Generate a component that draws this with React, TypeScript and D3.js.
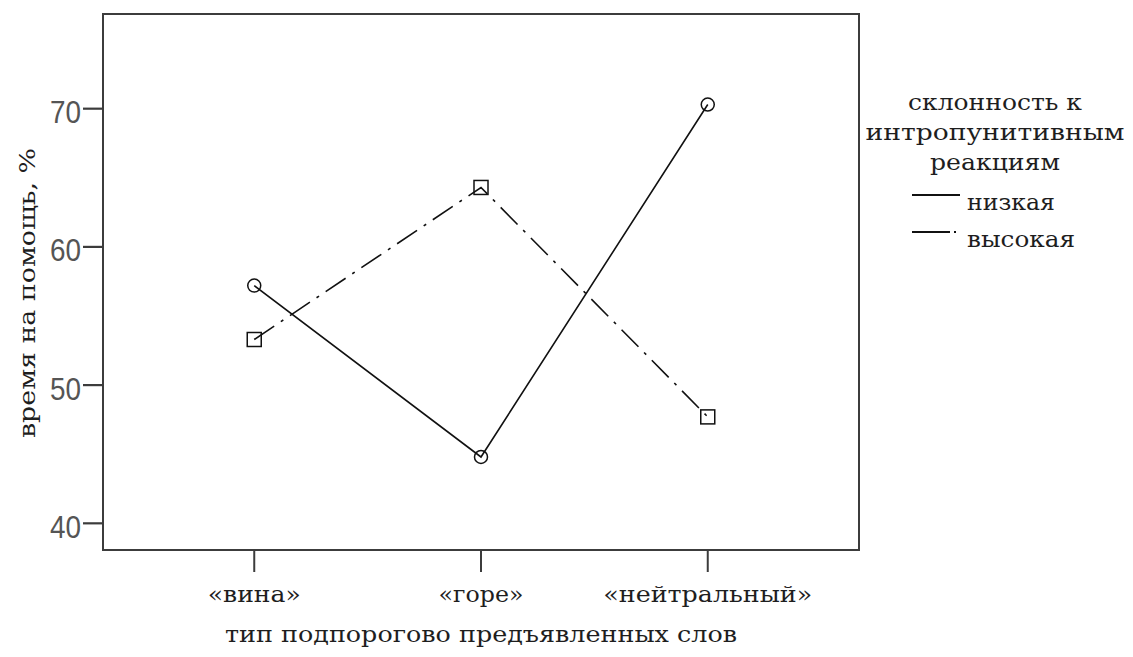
import React from "react";
import * as d3 from "d3";

// categories on the x axis
const categories = ["«вина»", "«горе»", "«нейтральный»"];
// mean values per group
const lowValues = [57.2, 44.8, 70.3];
const highValues = [53.3, 64.3, 47.7];
const seriesNames = ["низкая", "высокая"];
const yTicks = [40, 50, 60, 70];
const legendTitle = ["склонность к", "интропунитивным", "реакциям"];

const W = 1133;
const H = 657;
const plot = { left: 103, right: 859, top: 14, bottom: 550 };

const textFont = "'DejaVu Serif', 'Liberation Serif', serif";
const numFont = "'Liberation Sans', Arial, sans-serif";

// measured text widths so the serif font spans the same room as the original
const catWidths = [93, 85, 209];
const legendTitleWidths = [174, 259, 130];
const seriesWidths = [88, 108];

export default function App() {
  const x = d3
    .scalePoint<string>()
    .domain(categories)
    .range([plot.left, plot.right])
    .padding(0.667);
  const y = d3.scaleLinear().domain([38.07, 76.85]).range([plot.bottom, plot.top]);

  const line = d3
    .line<number>()
    .x((_, i) => x(categories[i]) as number)
    .y((d) => y(d));

  const frameColor = "#3c3c3c";
  const ink = "#1e1e1e";
  const fs = 23;

  return (
    <svg
      width={W}
      height={H}
      style={{ position: "absolute", left: 0, top: 0, background: "#fff" }}
    >
      {/* plot frame */}
      <rect
        x={plot.left}
        y={plot.top}
        width={plot.right - plot.left}
        height={plot.bottom - plot.top}
        fill="none"
        stroke={frameColor}
        strokeWidth={2}
      />
      {/* y axis */}
      {yTicks.map((t) => (
        <g key={t}>
          <line x1={plot.left - 20} x2={plot.left} y1={y(t)} y2={y(t)} stroke={frameColor} strokeWidth={2.2} />
          <text
            x={81}
            y={y(t) + 14.5}
            textAnchor="end"
            fontFamily={numFont}
            fontSize={31}
            textLength={31}
            lengthAdjust="spacingAndGlyphs"
            fill="#555"
          >
            {t}
          </text>
        </g>
      ))}
      {/* x axis */}
      {categories.map((c, i) => (
        <g key={c}>
          <line x1={x(c)} x2={x(c)} y1={plot.bottom} y2={plot.bottom + 22} stroke={frameColor} strokeWidth={2} />
          <text
            x={x(c)}
            y={602}
            textAnchor="middle"
            fontFamily={textFont}
            fontSize={fs}
            textLength={catWidths[i]}
            lengthAdjust="spacingAndGlyphs"
            fill={ink}
          >
            {c}
          </text>
        </g>
      ))}
      <text
        x={481}
        y={642}
        textAnchor="middle"
        fontFamily={textFont}
        fontSize={fs}
        textLength={512}
        lengthAdjust="spacingAndGlyphs"
        fill={ink}
      >
        тип подпорогово предъявленных слов
      </text>
      <text
        transform="translate(35,293) rotate(-90)"
        textAnchor="middle"
        fontFamily={textFont}
        fontSize={fs}
        textLength={290}
        lengthAdjust="spacingAndGlyphs"
        fill={ink}
      >
        время на помощь, %
      </text>

      {/* series lines */}
      <path d={line(lowValues) || ""} fill="none" stroke="#111" strokeWidth={1.6} />
      <path
        d={line(highValues) || ""}
        fill="none"
        stroke="#111"
        strokeWidth={1.6}
        strokeDasharray="24 8 3 8"
      />
      {lowValues.map((v, i) => (
        <circle key={"c" + i} cx={x(categories[i])} cy={y(v)} r={6.5} fill="none" stroke="#111" strokeWidth={1.5} />
      ))}
      {highValues.map((v, i) => (
        <rect
          key={"s" + i}
          x={(x(categories[i]) as number) - 7}
          y={y(v) - 7}
          width={14}
          height={14}
          fill="none"
          stroke="#111"
          strokeWidth={1.5}
        />
      ))}

      {/* legend */}
      {legendTitle.map((t, i) => (
        <text
          key={t}
          x={995}
          y={[110, 140, 170][i]}
          textAnchor="middle"
          fontFamily={textFont}
          fontSize={fs}
          textLength={legendTitleWidths[i]}
          lengthAdjust="spacingAndGlyphs"
          fill={ink}
        >
          {t}
        </text>
      ))}
      {seriesNames.map((s, i) => (
        <g key={s} transform={`translate(0, ${i * 37})`}>
          <line
            x1={912}
            x2={960}
            y1={195}
            y2={195}
            stroke="#111"
            strokeWidth={2}
            strokeDasharray={i === 0 ? undefined : "38 4 2 20"}
          />
          <text
            x={967}
            y={210}
            fontFamily={textFont}
            fontSize={fs}
            textLength={seriesWidths[i]}
            lengthAdjust="spacingAndGlyphs"
            fill={ink}
          >
            {s}
          </text>
        </g>
      ))}
    </svg>
  );
}
